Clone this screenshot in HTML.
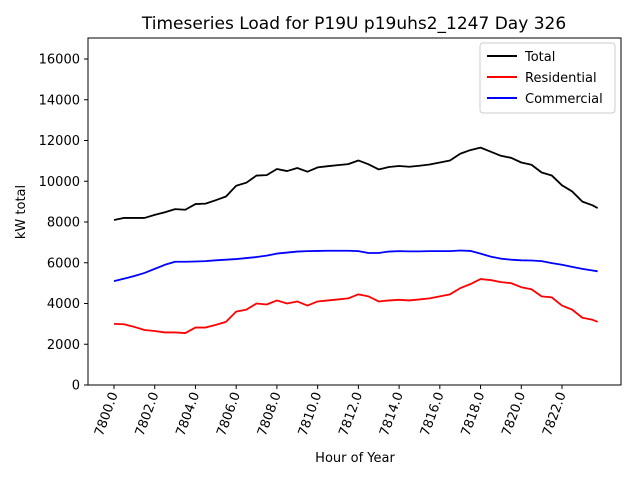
<!DOCTYPE html>
<html><head><meta charset="utf-8"><style>
body{margin:0;background:#fff;font-family:"Liberation Sans","DejaVu Sans",sans-serif}
</style></head><body>
<svg id="c" width="640" height="480" xmlns="http://www.w3.org/2000/svg">
<rect width="640" height="480" fill="#fff"/>
<text x="354" y="29" font-size="17" text-anchor="middle" font-family="DejaVu Sans, sans-serif">Timeseries Load for P19U p19uhs2_1247  Day 326</text>
<g id="plot"></g>
<rect x="88" y="38" width="533" height="347" fill="none" stroke="#000" stroke-width="1"/>
<text x="355" y="462" font-size="13" text-anchor="middle" font-family="DejaVu Sans, sans-serif">Hour of Year</text>
<text x="25" y="212" font-size="13" text-anchor="middle" transform="rotate(-90 25 212)" font-family="DejaVu Sans, sans-serif">kW total</text>
<g>
<rect x="480" y="43" width="135" height="70" fill="#fff" stroke="#ccc" rx="3"/>
<line x1="487" y1="56" x2="517" y2="56" stroke="#000" stroke-width="2"/>
<text x="525" y="61" font-size="13" font-family="DejaVu Sans, sans-serif">Total</text>
<line x1="487" y1="77" x2="517" y2="77" stroke="#f00" stroke-width="2"/>
<text x="525" y="82" font-size="13" font-family="DejaVu Sans, sans-serif">Residential</text>
<line x1="487" y1="98" x2="517" y2="98" stroke="#00f" stroke-width="2"/>
<text x="525" y="103" font-size="13" font-family="DejaVu Sans, sans-serif">Commercial</text>
</g>
</svg>
<script>
const hours=[];for(let i=0;i<48;i++)hours.push(7800+i*0.5);hours.push(7823.75);
const residential=[3000,2980,2850,2700,2650,2580,2580,2550,2820,2820,2950,3100,3600,3700,4000,3950,4150,4000,4100,3900,4100,4150,4200,4250,4450,4350,4100,4150,4180,4150,4200,4250,4350,4450,4750,4950,5200,5150,5050,5000,4800,4700,4350,4300,3900,3700,3300,3200,3100];
const commercial=[5100,5220,5350,5500,5700,5900,6050,6050,6060,6080,6120,6150,6180,6230,6280,6350,6450,6500,6550,6570,6580,6590,6590,6590,6570,6480,6480,6550,6570,6560,6560,6570,6570,6570,6600,6580,6450,6300,6200,6150,6120,6110,6080,5980,5900,5800,5700,5620,5580];
const total=[8100,8200,8200,8200,8350,8480,8630,8600,8880,8900,9070,9250,9780,9930,10280,10300,10600,10500,10650,10470,10680,10740,10790,10840,11020,10830,10580,10700,10750,10710,10760,10820,10920,11020,11350,11530,11650,11450,11250,11150,10920,10810,10430,10280,9800,9500,9000,8820,8680];
const yTicks=[0,2000,4000,6000,8000,10000,12000,14000,16000];
const xTicks=[7800,7802,7804,7806,7808,7810,7812,7814,7816,7818,7820,7822];
const X=h=>114+(h-7800)*20.364;
const Y=v=>385-v*(326/16000);
const g=document.getElementById('plot');
const NS='http://www.w3.org/2000/svg';
function mk(t,a){const e=document.createElementNS(NS,t);for(const k in a)e.setAttribute(k,a[k]);g.appendChild(e);return e;}
yTicks.forEach(v=>{
 const l=mk('line',{x1:84,x2:88,y1:Y(v),y2:Y(v),stroke:'#000'});
 
 
 const t=mk('text',{x:80,y:Y(v)+4.5,'font-size':13,'text-anchor':'end','font-family':'DejaVu Sans, sans-serif'});
 t.textContent=v;
 
 
});
xTicks.forEach(v=>{
 const x=X(v);
 const l=mk('line',{x1:x,x2:x,y1:385,y2:389,stroke:'#000'});
 
 
 const t=mk('text',{x:x+4,y:394,'font-size':13,'text-anchor':'end','font-family':'DejaVu Sans, sans-serif',transform:`rotate(-70 ${x+4} 394)`});
 t.textContent=v.toFixed(1);
 
 
});
function line(vals,color,name){
 const p=mk('polyline',{points:vals.map((v,i)=>X(hours[i])+','+Y(v)).join(' '),fill:'none',stroke:color,'stroke-width':1.8,'stroke-linejoin':'round'});
 
 
}
line(total,'#000','total-line');
line(residential,'#f00','residential-line');
line(commercial,'#00f','commercial-line');
</script>
</body></html>
